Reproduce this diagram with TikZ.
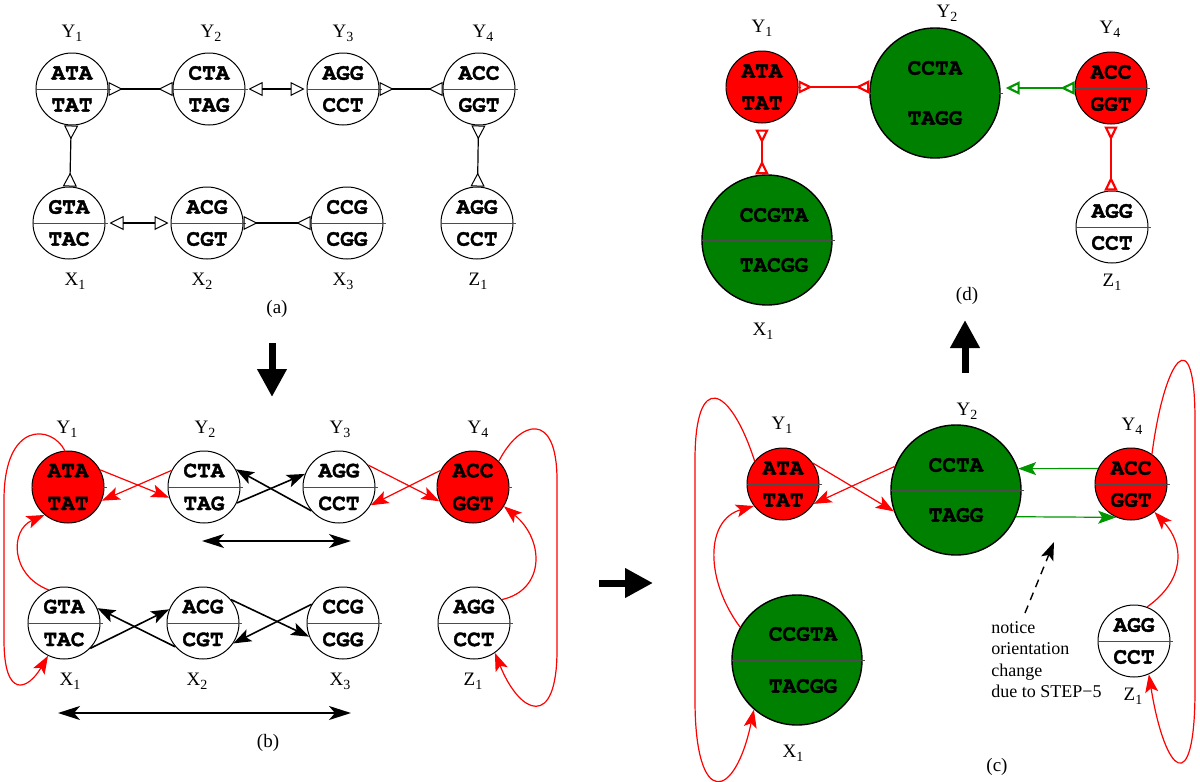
\documentclass[tikz,border=0pt]{standalone}
\usepackage{fontspec}
\setmainfont{Liberation Serif}
\newfontfamily\seqfamily{TeX Gyre Cursor}[BoldFeatures={FakeBold=1.6}]
\usetikzlibrary{arrows.meta}
\definecolor{dgreen}{RGB}{0,128,0}
\definecolor{agreen}{RGB}{0,150,0}
\definecolor{pred}{RGB}{255,0,0}
\newcommand\seqfont{\seqfamily\bfseries\fontsize{11.4}{12}\selectfont}
\newcommand\labfont{\fontsize{9.5}{10}\selectfont}
\newcommand\lsub[1]{\raisebox{-2.4pt}{\fontsize{7}{8}\selectfont #1}}
\newcommand\seqnode[7]{%
  \node[#3] (#1) at (#2) {};
  \draw[divline] (#1.west) -- ([xshift=1.2pt]#1.east);
  \node[seq] (#1t) at ([xshift=#7,yshift=#6]#1.center) {#4};
  \node[seq] (#1b) at ([xshift=#7,yshift=-#6]#1.center) {#5};
}
\tikzset{
  OT/.tip={Triangle[open,length=7pt,width=7pt,line width=0.5pt]},
  OTR/.tip={Triangle[open,reversed,length=7pt,width=7pt,line width=0.5pt]},
  OTd/.tip={Triangle[open,length=7pt,width=6.5pt,line width=1.1pt]},
  OTRd/.tip={Triangle[open,reversed,length=7pt,width=6.5pt,line width=1.1pt]},
  ST/.tip={Stealth[length=9pt,width=6.5pt,inset=2pt]},
  DT/.tip={Stealth[length=11pt,width=7pt,inset=3pt]},
  BT/.tip={Triangle[length=14pt,width=14pt]},
  sm/.style={circle,draw,line width=0.5pt,minimum size=36pt,inner sep=0pt,fill=white},
  bg/.style={circle,draw,line width=0.7pt,minimum size=65pt,inner sep=0pt},
  rd/.style={sm,fill=pred},
  gn/.style={bg,fill=dgreen},
  divline/.style={line width=0.5pt,draw=black!70},
  seq/.style={font=\seqfont,inner sep=0pt},
  lab/.style={font=\labfont,inner sep=0pt,anchor=base},
  note/.style={font=\fontsize{9}{10}\selectfont,inner sep=0pt,anchor=base west},
  acon/.style={line width=0.6pt},
  blkc/.style={line width=0.8pt,-{ST}},
  redc/.style={line width=0.6pt,draw=pred,-{ST}},
  grnc/.style={line width=0.6pt,draw=agreen,-{ST}},
  dbl/.style={line width=1pt,{DT}-{DT}},
  dashc/.style={line width=0.7pt,dash pattern=on 4pt off 3pt,-{ST}},
  blockarr/.style={line width=3.5pt,-{BT}},
  redd/.style={draw=pred,line width=0.6pt},
  grnd/.style={draw=agreen,line width=0.6pt},
}
\begin{document}
\begin{tikzpicture}[x=0.5pt,y=-0.5pt]
\useasboundingbox (0,0) rectangle (1200,782);

% ---------------- panel (a)
\seqnode{aY1}{72,89}{sm}{ATA}{TAT}{8pt}{0pt}
\seqnode{aY2}{209,89}{sm}{CTA}{TAG}{8pt}{0pt}
\seqnode{aY3}{343,89}{sm}{AGG}{CCT}{8pt}{0pt}
\seqnode{aY4}{479,89}{sm}{ACC}{GGT}{8pt}{0pt}
\seqnode{aX1}{69,223}{sm}{GTA}{TAC}{8pt}{0pt}
\seqnode{aX2}{207,223}{sm}{ACG}{CGT}{8pt}{0pt}
\seqnode{aX3}{347,223}{sm}{CCG}{CGG}{8pt}{0pt}
\seqnode{aZ1}{477,223}{sm}{AGG}{CCT}{8pt}{0pt}
\node[lab] (aY1l) at (72,37) {Y\lsub{1}};
\node[lab] (aY2l) at (211,37) {Y\lsub{2}};
\node[lab] (aY3l) at (343,37) {Y\lsub{3}};
\node[lab] (aY4l) at (483,37) {Y\lsub{4}};
\node[lab] (aX1l) at (75,285) {X\lsub{1}};
\node[lab] (aX2l) at (202,285) {X\lsub{2}};
\node[lab] (aX3l) at (343,285) {X\lsub{3}};
\node[lab] (aZ1l) at (478,285) {Z\lsub{1}};
\node[lab] (alab) at (277,313) {(a)};
\draw[acon,{OTR}-{OTR}] (aY1) -- (aY2);
\draw[acon,{OT}-{OT},shorten <=1.5pt,shorten >=1pt] (aY2) -- (aY3);
\draw[acon,{OTR}-{OTR}] (aY3) -- (aY4);
\draw[acon,{OTR}-{OTR}] (aY1) -- (aX1);
\draw[acon,{OTR}-{OTR}] (aY4) -- (aZ1);
\draw[acon,{OT}-{OT},shorten <=2pt,shorten >=1pt] (aX1) -- (aX2);
\draw[acon,{OTR}-{OTR}] (aX2) -- (aX3);

% ---------------- arrows between panels
\coordinate (dn1) at (272,343); \coordinate (dn2) at (272,397);
\coordinate (rt1) at (599,583); \coordinate (rt2) at (653,583);
\coordinate (up1) at (965,373); \coordinate (up2) at (965,320);
\draw[blockarr] (dn1) -- (dn2);
\draw[blockarr] (rt1) -- (rt2);
\draw[blockarr] (up1) -- (up2);

% ---------------- panel (b)
\seqnode{bY1}{68,487}{rd}{ATA}{TAT}{8.2pt}{0pt}
\seqnode{bY2}{204,487}{sm}{CTA}{TAG}{8.2pt}{0pt}
\seqnode{bY3}{339,487}{sm}{AGG}{CCT}{8.2pt}{0pt}
\seqnode{bY4}{473,487}{rd}{ACC}{GGT}{8.2pt}{0pt}
\seqnode{bX1}{64,623}{sm}{GTA}{TAC}{8.2pt}{0pt}
\seqnode{bX2}{203,623}{sm}{ACG}{CGT}{8.2pt}{0pt}
\seqnode{bX3}{343,623}{sm}{CCG}{CGG}{8.2pt}{0pt}
\seqnode{bZ1}{474,623}{sm}{AGG}{CCT}{8.2pt}{0pt}
\node[lab] (bY1l) at (67,433) {Y\lsub{1}};
\node[lab] (bY2l) at (205,433) {Y\lsub{2}};
\node[lab] (bY3l) at (340,433) {Y\lsub{3}};
\node[lab] (bY4l) at (478,433) {Y\lsub{4}};
\node[lab] (bX1l) at (70,685) {X\lsub{1}};
\node[lab] (bX2l) at (197,685) {X\lsub{2}};
\node[lab] (bX3l) at (340,685) {X\lsub{3}};
\node[lab] (bZ1l) at (473,685) {Z\lsub{1}};
\node[lab] (blab) at (268,747) {(b)};
\draw[blkc] (bY2.-26) -- (bY3.159);
\draw[blkc] (bY3.221) -- (bY2.29);
\draw[redc] (bY1.28) -- (bY2.197);
\draw[redc] (bY2.153) -- (bY1.-22);
\draw[redc] (bY3.37) -- (bY4.203);
\draw[redc] (bY4.153) -- (bY3.-30);
\draw[blkc] (bX1.-44) -- (bX2.158);
\draw[blkc] (bX2.221) -- (bX1.24);
\draw[blkc] (bX2.40) -- (bX3.202);
\draw[blkc] (bX3.149) -- (bX2.-34);
\draw[redc] (bX1.115) .. controls (10,575) and (10,530) .. (bY1.230);
\draw[redc] (bY1.95) .. controls (52,425) and (4,420) .. (4,500) -- (4,640) .. controls (4,700) and (28,690) .. (bX1.244);
\draw[redc] (bZ1.40) .. controls (545,590) and (545,540) .. (bY4.-32);
\draw[redc] (bY4.45) .. controls (520,420) and (557,410) .. (557,480) -- (557,650) .. controls (557,730) and (520,715) .. (bZ1.-55);
\coordinate (bd1) at (202,541); \coordinate (bd2) at (351,541);
\coordinate (bd3) at (58,713); \coordinate (bd4) at (351,713);
\draw[dbl] (bd1) -- (bd2);
\draw[dbl] (bd3) -- (bd4);

% ---------------- panel (c)
\seqnode{cY1}{783,484}{rd}{ATA}{TAT}{8pt}{0pt}
\seqnode{cY2}{956,490}{gn}{CCTA}{TAGG}{12.5pt}{0pt}
\seqnode{cY4}{1131,484}{rd}{ACC}{GGT}{8pt}{0pt}
\seqnode{cX1}{797,660}{gn}{CCGTA}{TACGG}{13pt}{3pt}
\seqnode{cZ1}{1134,641}{sm}{AGG}{CCT}{8pt}{0pt}
\node[lab] (cY1l) at (782,429) {Y\lsub{1}};
\node[lab] (cY2l) at (967,415) {Y\lsub{2}};
\node[lab] (cY4l) at (1132,430) {Y\lsub{4}};
\node[lab] (cX1l) at (793,757) {X\lsub{1}};
\node[lab] (cZ1l) at (1133,700) {Z\lsub{1}};
\node[lab] (clab) at (997,771) {(c)};
\node[note] (n1) at (991,633) {notice};
\node[note] (n2) at (991,654.5) {orientation};
\node[note] (n3) at (991,676) {change};
\node[note] (n4) at (991,697) {due to STEP−5};
\draw[redc] (cY1.35) -- (cY2.199);
\draw[redc] (cY2.159) -- (cY1.-33);
\draw[grnc] (cY4.155) -- (cY2.19);
\draw[grnc] (cY2.-24) -- (cY4.-114);
\draw[redc] (cX1.150) .. controls (705,580) and (705,520) .. (cY1.217);
\draw[redc] (cY1.141) .. controls (730,385) and (695,370) .. (695,460) -- (695,700) .. controls (695,810) and (735,800) .. (cX1.229);
\draw[redc] (cZ1.69) .. controls (1185,580) and (1185,545) .. (cY4.-50);
\draw[redc] (cY4.55) .. controls (1165,355) and (1195,320) .. (1195,420) -- (1195,690) .. controls (1195,800) and (1165,775) .. (cZ1.-66);
\coordinate (nst) at (1025,613); \coordinate (ntip) at (1054,542);
\draw[dashc] (nst) -- (ntip);

% ---------------- panel (d)
\seqnode{dY1}{762,87}{rd}{ATA}{TAT}{8pt}{0pt}
\seqnode{dY2}{935,93}{gn}{CCTA}{TAGG}{12.5pt}{0pt}
\seqnode{dY4}{1111,88}{rd}{ACC}{GGT}{8pt}{0pt}
\seqnode{dX1}{767,240}{gn}{CCGTA}{TACGG}{12.5pt}{3.5pt}
\seqnode{dZ1}{1112,227}{sm}{AGG}{CCT}{8pt}{0pt}
\node[lab] (dY1l) at (762,32) {Y\lsub{1}};
\node[lab] (dY2l) at (947,17) {Y\lsub{2}};
\node[lab] (dY4l) at (1110,33) {Y\lsub{4}};
\node[lab] (dX1l) at (763,335) {X\lsub{1}};
\node[lab] (dZ1l) at (1112,286) {Z\lsub{1}};
\node[lab] (dlab) at (967,300) {(d)};
\draw[redd,{OTRd}-{OTRd}] (dY1.east) -- (dY2.west |- dY1.east);
\draw[grnd,{OTRd}-{OTd},shorten >=2.5pt] (dY4.west) -- (dY2.east |- dY4.west);
\draw[redd,{OTRd}-{OTRd},shorten <=3pt] (dY1.south) -- (dY1.south |- dX1.north);
\draw[redd,{OTRd}-{OTRd},shorten <=1pt] (dY4.south) -- (dY4.south |- dZ1.north);
\end{tikzpicture}
\end{document}
